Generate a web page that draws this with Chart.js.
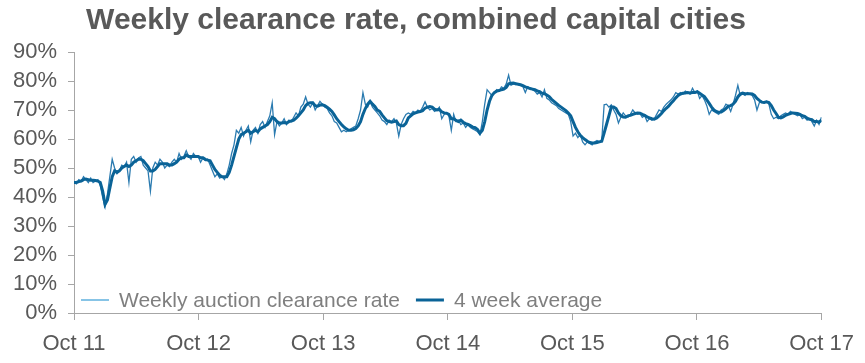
<!DOCTYPE html>
<html>
<head>
<meta charset="utf-8">
<script src="https://cdn.jsdelivr.net/npm/chart.js@4.4.0/dist/chart.umd.min.js"></script>
<style>
  html, body { margin: 0; padding: 0; background: #fff; }
  #wrap { width: 865px; height: 363px; position: relative; }
</style>
</head>
<body>
<div id="wrap"><canvas id="chart"></canvas></div>
<script>
// x axis: weeks since early Oct 2011
var yearLabels = ["Oct 11", "Oct 12", "Oct 13", "Oct 14", "Oct 15", "Oct 16", "Oct 17"];
var weeksPerYear = 365.25 / 7;
var yTicks = [0, 10, 20, 30, 40, 50, 60, 70, 80, 90];

var seriesNames = ["Weekly auction clearance rate", "4 week average"];

// weekly clearance rate, %
var weekly = [
    45, 44.5, 46, 45.5, 47, 46, 45, 46.5, 45, 45.5, 46, 44, 40, 36.5, 41, 47, 53, 50, 48,
    49, 51, 50.5, 52, 45, 53, 54, 52, 53.5, 54, 51, 50, 49, 42,
    50, 52, 51, 53, 52, 50, 51, 50.5, 52, 53, 52, 55, 53, 54, 56, 54, 53, 55, 54, 54,
    52, 53.5, 52.5, 53, 51, 49, 47, 48, 46.5, 47, 46, 48, 51, 55, 58, 63,
    62, 64, 61, 63, 64.5, 59, 63, 64, 62, 65, 66, 64, 66, 68, 72.5, 61.5,
    66, 64.5, 65.5, 67, 65, 66.5, 66, 67.5, 69, 68, 71, 72, 74.5, 72, 71, 72.5, 70, 71.5, 73, 72,
    71, 70.5, 69, 68, 66, 65.5, 64, 62.5, 63, 62.5, 63, 63.5, 64, 64.5, 67, 70,
    76, 72, 71, 73, 71, 70, 69, 68, 66.5, 66, 65, 66.5, 66, 67, 65.5, 61, 65, 67, 68.5, 69,
    68.5, 69.5, 69, 70, 69.5, 71, 72.8, 71, 70, 70.5, 69.5, 70, 71, 67, 68.5, 69,
    68, 63, 68.5, 66, 66.5, 65, 65.5, 64, 65, 64, 63.5, 63, 62.5, 61.5, 66, 72, 77, 76, 75, 76,
    77, 76.5, 78, 77.5, 79, 82, 78.5, 79, 78.7, 79, 78.5, 78, 76, 78, 77.5, 77, 76.5, 75.5, 76, 74.5,
    77, 74, 73.5, 72.5, 72, 71.5, 70.5, 70, 69.5, 69, 68.5, 66, 61,
    62, 60.5, 61.5, 59, 58, 59, 58.5, 58, 59, 59.5, 59, 59.5, 71.8,
    72, 71, 71.8, 70, 68.5, 65.5, 67.5, 69, 68, 67.5, 68.5, 70, 69, 68.5, 68.8, 67.5, 68, 66,
    67, 66.5, 67, 68.5, 70, 69.5, 71, 72, 72.8, 73.5, 74.5, 76, 75.5, 76, 75.5, 76.5, 76, 75.5, 77.5, 76,
    76.5, 74, 75, 73.5, 71.5, 68.5, 70, 69.5, 69, 68.5, 70, 70.5, 72, 71.5, 69.5, 72, 75, 78.5, 75, 75.5,
    75, 76, 75.5, 75, 73.5, 70, 72.5, 73, 72.5, 73, 72, 68.5, 67, 67.5, 67, 68, 68.5, 69, 68.5, 69.5,
    69, 68.5, 68, 68.5, 67, 67.5, 66.5, 67, 66, 64.5, 66.5, 65, 67.5
];

// 4 week average, %
var average = [
    45, 45, 45.3, 45.5, 46, 46.2, 46, 45.8, 45.8, 45.7, 45.5, 45, 42, 37.5, 39, 43, 47, 49, 48.5,
    49, 50, 50.5, 51, 50.5, 51, 52, 52.5, 53, 53, 52.5, 51.5, 50.5, 49,
    49, 49.5, 50.5, 51.5, 51.5, 51.5, 51.5, 51, 51, 51.5, 52, 53, 53.5, 53.5, 54.5, 54, 54, 54, 54, 54,
    53.5, 53.5, 53, 52.7, 52.5, 51, 49.5, 48.5, 47.5, 47, 47, 47, 48.5, 51, 54, 57,
    60, 61.5, 62, 62.5, 63, 62, 62.5, 63, 62.5, 63.5, 64, 64.5, 65, 66, 67.5, 67,
    66, 65.5, 65.5, 65.7, 65.5, 66, 66.2, 66.5, 67.2, 68, 69, 70, 71.5, 72.3, 72.5, 72.5, 71.5, 71.3, 71.7, 71.8,
    71.5, 71, 70.3, 69.5, 68.3, 67, 66, 65, 64.2, 63.5, 63, 63, 63.2, 63.6, 64.5, 66,
    68.5, 70.5, 72, 73, 72, 71.2, 70, 69.5, 68.3, 67.3, 66.3, 66, 65.8, 66, 66.2, 65, 64.6, 64.6, 65.4, 67.3,
    68, 68.7, 69, 69.3, 69.5, 69.8, 70.6, 71, 71.2, 71, 70.3, 70, 70.2, 69.4, 69, 68.9,
    68.5, 67, 67, 66.4, 66, 66.5, 65.8, 65.3, 65, 64.6, 64.1, 63.9, 63.3, 62, 63, 66, 70, 73, 75, 76,
    76.5, 76.7, 77, 77.2, 77.8, 79, 79.2, 79.3, 79.1, 78.9, 78.7, 78.4, 78, 77.7, 77.4, 77.2, 77, 76.6, 76.3, 75.8,
    75.6, 75.2, 74.6, 73.7, 73, 72.3, 71.6, 71, 70.4, 69.8, 69, 68, 66,
    64, 62.5, 61.3, 60.5, 59.8, 59.2, 58.8, 58.6, 58.6, 58.8, 59, 59.2, 62,
    65, 68, 71, 71, 70.5, 69, 68, 67.6, 67.5, 68, 68.2, 68.5, 68.8, 69, 68.9, 68.5, 68.2, 67.6,
    67.3, 67, 66.8, 67.2, 68, 68.8, 69.8, 70.6, 71.3, 72.3, 73.2, 74.2, 75, 75.5, 75.8, 75.9, 76, 75.9, 76, 76,
    76.3, 75.8, 75.2, 74.6, 73.5, 72.3, 71, 70, 69.5, 69.2, 69.3, 69.8, 70.5, 71.3, 71.5, 72, 73, 74.5, 75.5, 75.8,
    75.6, 75.6, 75.6, 75.5, 75, 74, 73.3, 72.7, 72.6, 72.8, 72.6, 71.5, 70, 68.8, 67.5, 67.3, 67.6, 68.2, 68.5, 68.8,
    69, 68.9, 68.8, 68.5, 68, 67.8, 67.2, 66.8, 66.7, 66, 66, 65.8, 66.5
];

var TEXT = '#595959';
var AXIS = '#a6a6a6';

function toPoints(arr) {
    return arr.map(function (v, i) { return { x: i, y: v }; });
}

// title and in-plot legend, drawn by hand
var decor = {
    id: 'decor',
    afterDraw: function (chart) {
        var ctx = chart.ctx;
        var area = chart.chartArea;
        ctx.save();
        ctx.fillStyle = TEXT;
        ctx.font = 'bold 30px "Liberation Sans", Arial, sans-serif';
        ctx.textAlign = 'center';
        ctx.textBaseline = 'middle';
        ctx.fillText('Weekly clearance rate, combined capital cities', 416, 21);

        ctx.font = '21px "Liberation Sans", Arial, sans-serif';
        ctx.textAlign = 'left';
        var x = area.left + 7;
        var y = area.bottom - 13;
        var legendColors = ['#5fb0de', '#0a6397'];
        var legendWidths = [1.5, 3];
        for (var i = 0; i < seriesNames.length; i++) {
            ctx.strokeStyle = legendColors[i];
            ctx.lineWidth = legendWidths[i];
            ctx.beginPath();
            ctx.moveTo(x, y);
            ctx.lineTo(x + 28, y);
            ctx.stroke();
            ctx.fillStyle = '#7f7f7f';
            ctx.fillText(seriesNames[i], x + 38, y + 1);
            x += 38 + ctx.measureText(seriesNames[i]).width + 16;
        }
        ctx.restore();
    }
};

new Chart(document.getElementById('chart'), {
    type: 'line',
    plugins: [decor],
    data: {
        datasets: [{
            label: seriesNames[0],
            data: toPoints(weekly),
            borderColor: '#2b7bb0',
            borderWidth: 1.3,
            pointRadius: 0,
            tension: 0,
            order: 2
        }, {
            label: seriesNames[1],
            data: toPoints(average),
            borderColor: '#0a6397',
            borderWidth: 3,
            pointRadius: 0,
            tension: 0,
            order: 1
        }]
    },
    options: {
        responsive: true,
        maintainAspectRatio: false,
        animation: false,
        layout: {
            padding: { top: 52, right: 42, bottom: 0, left: 0 }
        },
        plugins: {
            legend: { display: false },
            title: { display: false },
            tooltip: { enabled: false }
        },
        scales: {
            x: {
                type: 'linear',
                min: 0,
                max: (yearLabels.length - 1) * weeksPerYear,
                afterBuildTicks: function (axis) {
                    axis.ticks = yearLabels.map(function (_, i) {
                        return { value: i * weeksPerYear };
                    });
                },
                afterFit: function (axis) { axis.height = 50; },
                ticks: {
                    autoSkip: false,
                    maxRotation: 0,
                    color: TEXT,
                    padding: 11,
                    font: { family: '"Liberation Sans", Arial, sans-serif', size: 22 },
                    callback: function (value, index) { return yearLabels[index]; }
                },
                grid: { drawOnChartArea: false, color: AXIS, tickLength: 7 },
                border: { color: AXIS, width: 1 }
            },
            y: {
                min: 0,
                max: 90,
                afterBuildTicks: function (axis) {
                    axis.ticks = yTicks.map(function (v) { return { value: v }; });
                },
                afterFit: function (axis) { axis.width = 74; },
                ticks: {
                    autoSkip: false,
                    color: TEXT,
                    padding: 11,
                    font: { family: '"Liberation Sans", Arial, sans-serif', size: 22 },
                    callback: function (v) { return v + '%'; }
                },
                grid: { drawOnChartArea: false, color: AXIS, tickLength: 6 },
                border: { color: AXIS, width: 1 }
            }
        }
    }
});
</script>
</body>
</html>
